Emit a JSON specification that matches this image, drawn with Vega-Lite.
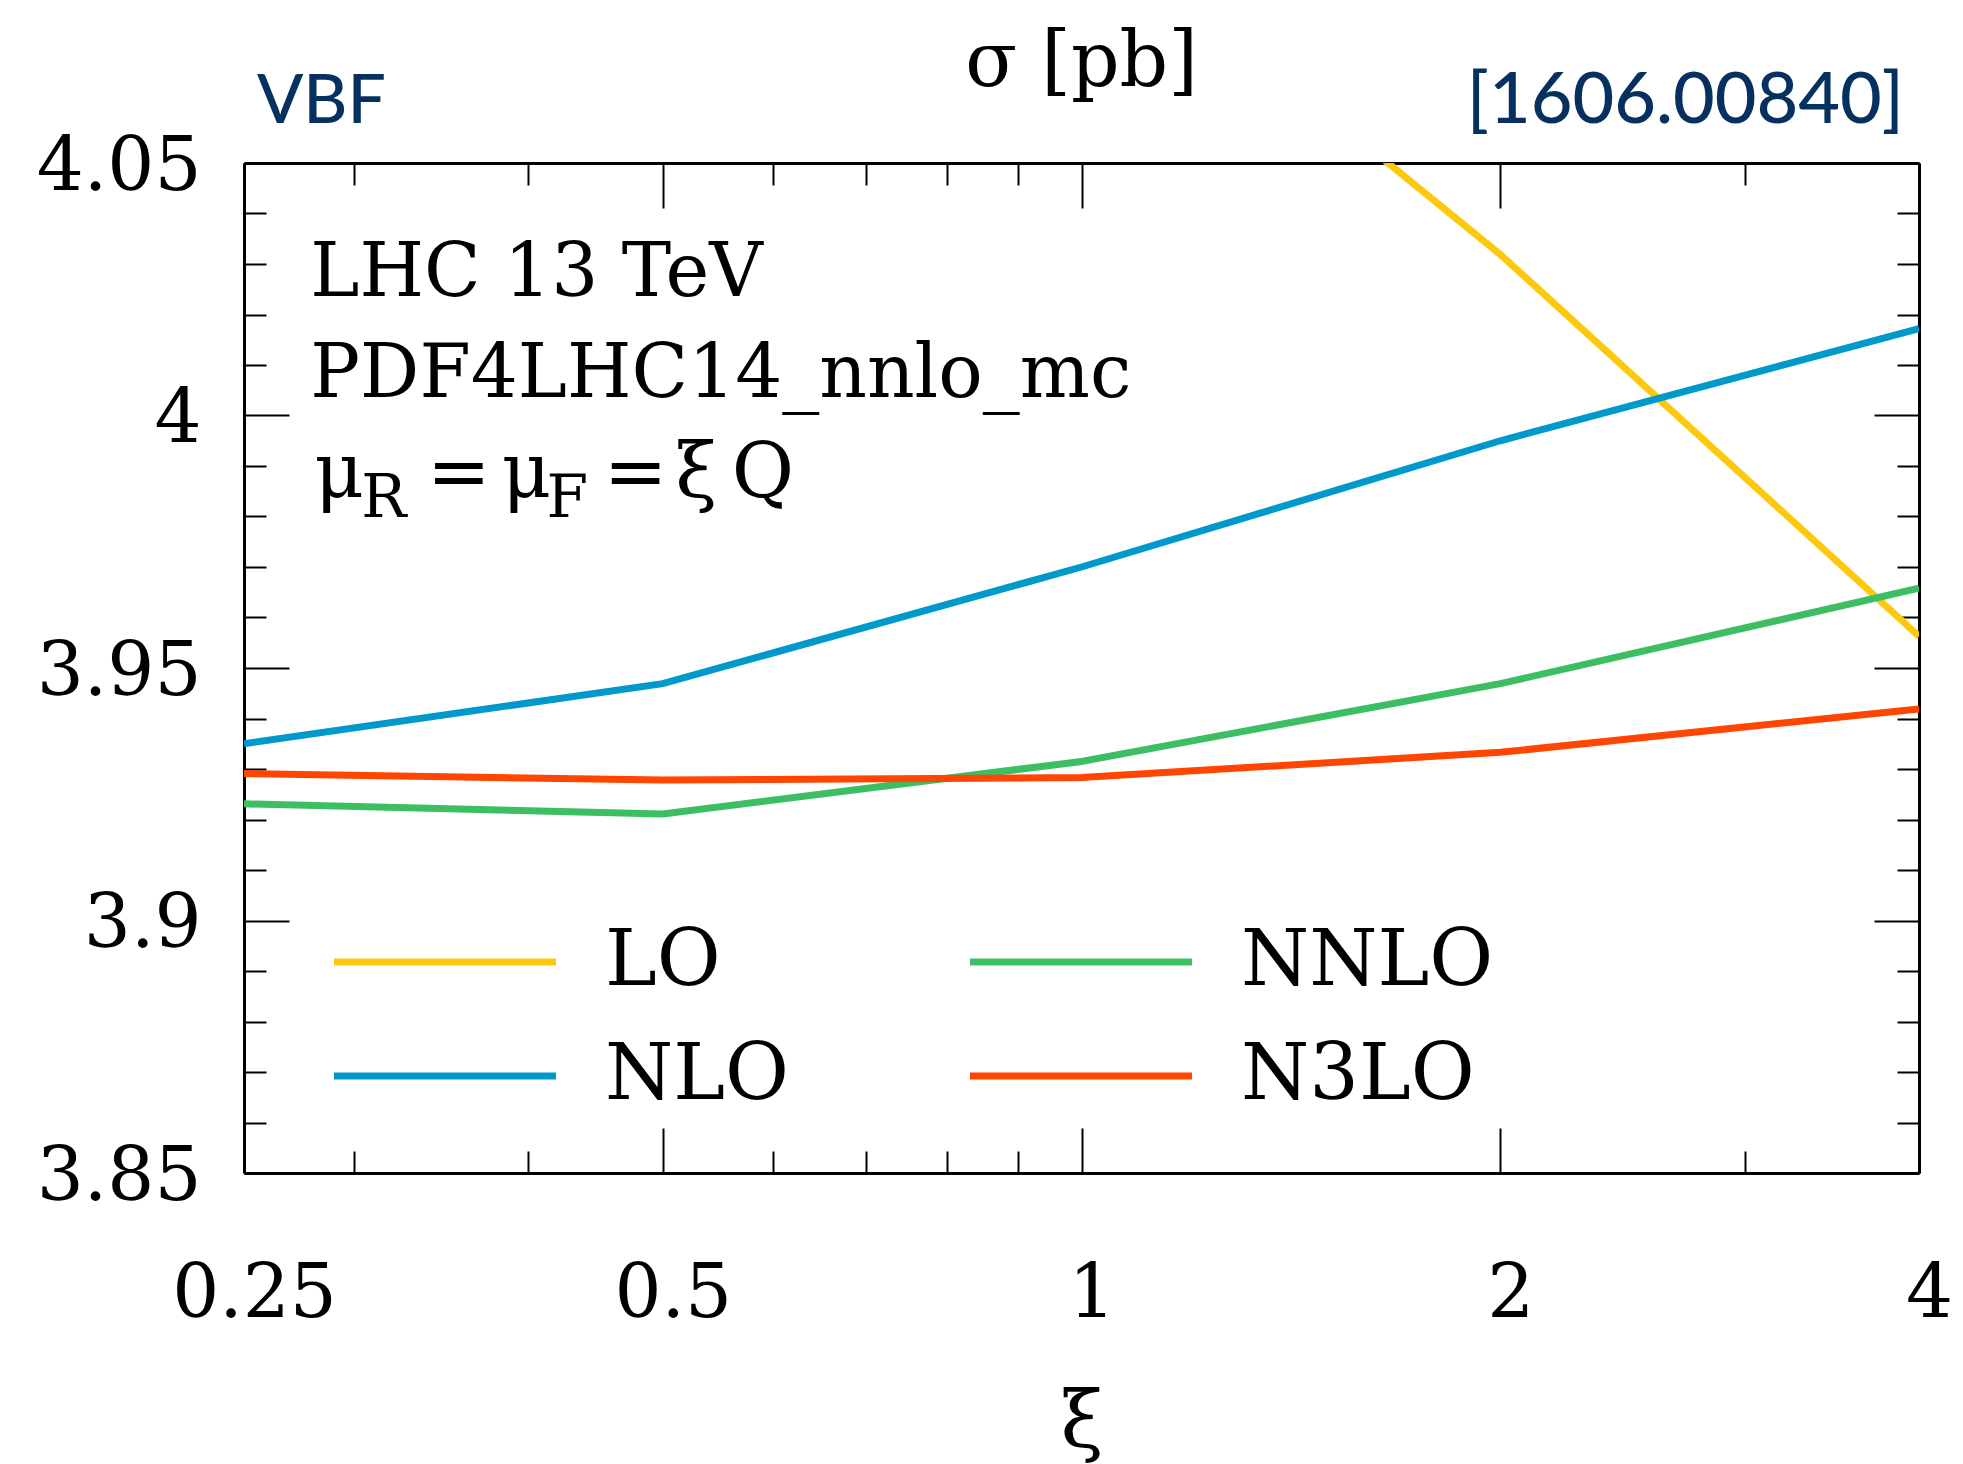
{
  "$schema": "https://vega.github.io/schema/vega-lite/v6.json",
  "width": 1675,
  "height": 1010,
  "autosize": {"type": "none"},
  "padding": {"left": 244, "top": 163, "right": 44, "bottom": 291},
  "background": "white",
  "config": {"view": {"stroke": null}, "font": "DejaVu Serif"},
  "datasets": {
    "xs": [
      {"xi": 0.25, "sigma": 4.21, "order": "LO"},
      {"xi": 0.5, "sigma": 4.16, "order": "LO"},
      {"xi": 1, "sigma": 4.0994, "order": "LO"},
      {"xi": 2, "sigma": 4.0319, "order": "LO"},
      {"xi": 4, "sigma": 3.9563, "order": "LO"},
      {"xi": 0.25, "sigma": 3.935, "order": "NLO"},
      {"xi": 0.5, "sigma": 3.9469, "order": "NLO"},
      {"xi": 1, "sigma": 3.97, "order": "NLO"},
      {"xi": 2, "sigma": 3.995, "order": "NLO"},
      {"xi": 4, "sigma": 4.0172, "order": "NLO"},
      {"xi": 0.25, "sigma": 3.9231, "order": "NNLO"},
      {"xi": 0.5, "sigma": 3.9211, "order": "NNLO"},
      {"xi": 1, "sigma": 3.9315, "order": "NNLO"},
      {"xi": 2, "sigma": 3.9469, "order": "NNLO"},
      {"xi": 4, "sigma": 3.9658, "order": "NNLO"},
      {"xi": 0.25, "sigma": 3.9291, "order": "N3LO"},
      {"xi": 0.5, "sigma": 3.9278, "order": "N3LO"},
      {"xi": 1, "sigma": 3.9283, "order": "N3LO"},
      {"xi": 2, "sigma": 3.9333, "order": "N3LO"},
      {"xi": 4, "sigma": 3.9419, "order": "N3LO"}
    ]
  },
  "data": {"name": "xs"},
  "layer": [
    {
      "mark": {"type": "line", "strokeWidth": 7, "clip": true},
      "encoding": {
        "x": {
          "field": "xi", "type": "quantitative",
          "scale": {"type": "log", "domain": [0.25, 4], "nice": false},
          "axis": {
            "orient": "bottom",
            "values": [0.25, 0.3, 0.4, 0.5, 0.6, 0.7, 0.8, 0.9, 1, 2, 3, 4],
            "labelExpr": "indexof([0.25,0.5,1,2,4], datum.value) >= 0 ? '' + datum.value : ''",
            "tickSize": {"condition": {"test": "indexof([0.25,0.5,1,2,4], datum.value) >= 0", "value": -45}, "value": -22},
            "tickWidth": 2, "tickColor": "black",
            "domainColor": "black", "domainWidth": 3,
            "labelFont": "DejaVu Serif", "labelFontSize": 74, "labelColor": "black",
            "labelPadding": 130, "labelFlush": false, "labelOverlap": false, "labelOffset": 10, "labelBound": false,
            "grid": false,
            "title": "ξ", "titleFont": "DejaVu Serif", "titleFontSize": 78, "titleFontWeight": "normal", "titleColor": "black", "titlePadding": 30
          }
        },
        "y": {
          "field": "sigma", "type": "quantitative",
          "scale": {"domain": [3.85, 4.05], "nice": false, "zero": false},
          "axis": {
            "orient": "left",
            "values": [3.85, 3.86, 3.87, 3.88, 3.89, 3.9, 3.91, 3.92, 3.93, 3.94, 3.95, 3.96, 3.97, 3.98, 3.99, 4, 4.01, 4.02, 4.03, 4.04, 4.05],
            "labelExpr": "indexof([3.85,3.9,3.95,4,4.05], datum.value) >= 0 ? '' + datum.value : ''",
            "tickSize": {"condition": {"test": "indexof([3.85,3.9,3.95,4,4.05], datum.value) >= 0", "value": -45}, "value": -22},
            "tickWidth": 2, "tickColor": "black",
            "domainColor": "black", "domainWidth": 3,
            "labelFont": "DejaVu Serif", "labelFontSize": 74, "labelColor": "black",
            "labelPadding": 88, "labelFlush": false, "labelOverlap": false, "labelBound": false, "labelOffset": 4,
            "grid": false, "title": null
          }
        },
        "color": {
          "field": "order", "type": "nominal",
          "scale": {"domain": ["LO", "NLO", "NNLO", "N3LO"], "range": ["#fdc90f", "#0099cc", "#3cbf63", "#ff4500"]},
          "legend": {
            "orient": "none", "legendX": 162, "legendY": 760, "columns": 2, "columnPadding": 167, "rowPadding": 36,
            "symbolType": "M-4,0H4", "symbolSize": 3080, "symbolStrokeWidth": 7,
            "labelFont": "DejaVu Serif", "labelFontSize": 78, "labelColor": "black", "labelOffset": 121, "labelLimit": 0,
            "title": null, "padding": 0
          }
        }
      }
    },
    {
      "mark": {"type": "point", "opacity": 0, "clip": true},
      "encoding": {
        "x": {
          "field": "xi", "type": "quantitative",
          "scale": {"type": "log", "domain": [0.25, 4], "nice": false},
          "axis": {
            "orient": "top",
            "values": [0.25, 0.3, 0.4, 0.5, 0.6, 0.7, 0.8, 0.9, 1, 2, 3, 4],
            "labels": false,
            "tickSize": {"condition": {"test": "indexof([0.25,0.5,1,2,4], datum.value) >= 0", "value": -45}, "value": -22},
            "tickWidth": 2, "tickColor": "black",
            "domainColor": "black", "domainWidth": 3, "grid": false, "title": null
          }
        },
        "y": {
          "field": "sigma", "type": "quantitative",
          "scale": {"domain": [3.85, 4.05], "nice": false, "zero": false},
          "axis": {
            "orient": "right",
            "values": [3.85, 3.86, 3.87, 3.88, 3.89, 3.9, 3.91, 3.92, 3.93, 3.94, 3.95, 3.96, 3.97, 3.98, 3.99, 4, 4.01, 4.02, 4.03, 4.04, 4.05],
            "labels": false,
            "tickSize": {"condition": {"test": "indexof([3.85,3.9,3.95,4,4.05], datum.value) >= 0", "value": -45}, "value": -22},
            "tickWidth": 2, "tickColor": "black",
            "domainColor": "black", "domainWidth": 3, "grid": false, "title": null
          }
        }
      }
    },
    {
      "data": {"values": [{}]},
      "mark": {"type": "text", "text": "σ [pb]", "font": "DejaVu Serif", "fontSize": 76, "align": "center", "baseline": "alphabetic", "color": "black"},
      "encoding": {
        "x": {"datum": 1, "type": "quantitative", "scale": {"type": "log", "domain": [0.25, 4], "nice": false}, "axis": null},
        "y": {"datum": 4.0652, "type": "quantitative", "scale": {"domain": [3.85, 4.05], "nice": false, "zero": false}, "axis": null}
      }
    },
    {
      "data": {"values": [{}]},
      "mark": {"type": "text", "text": "VBF", "font": "Lato", "fontSize": 68, "fontWeight": 500, "align": "left", "baseline": "alphabetic", "color": "#06305f"},
      "encoding": {
        "x": {"datum": 0.2554, "type": "quantitative", "scale": {"type": "log", "domain": [0.25, 4], "nice": false}, "axis": null},
        "y": {"datum": 4.058, "type": "quantitative", "scale": {"domain": [3.85, 4.05], "nice": false, "zero": false}, "axis": null}
      }
    },
    {
      "data": {"values": [{}]},
      "mark": {"type": "text", "text": "[1606.00840]", "font": "Lato", "fontSize": 72, "fontWeight": 500, "align": "right", "baseline": "alphabetic", "color": "#06305f"},
      "encoding": {
        "x": {"datum": 3.902, "type": "quantitative", "scale": {"type": "log", "domain": [0.25, 4], "nice": false}, "axis": null},
        "y": {"datum": 4.058, "type": "quantitative", "scale": {"domain": [3.85, 4.05], "nice": false, "zero": false}, "axis": null}
      }
    },
    {
      "data": {"values": [{}]},
      "mark": {"type": "text", "text": "LHC 13 TeV", "font": "DejaVu Serif", "fontSize": 74, "align": "left", "baseline": "alphabetic", "color": "black"},
      "encoding": {
        "x": {"datum": 0.279, "type": "quantitative", "scale": {"type": "log", "domain": [0.25, 4], "nice": false}, "axis": null},
        "y": {"datum": 4.0237, "type": "quantitative", "scale": {"domain": [3.85, 4.05], "nice": false, "zero": false}, "axis": null}
      }
    },
    {
      "data": {"values": [{}]},
      "mark": {"type": "text", "text": "PDF4LHC14_nnlo_mc", "font": "DejaVu Serif", "fontSize": 74, "align": "left", "baseline": "alphabetic", "color": "black"},
      "encoding": {
        "x": {"datum": 0.279, "type": "quantitative", "scale": {"type": "log", "domain": [0.25, 4], "nice": false}, "axis": null},
        "y": {"datum": 4.0037, "type": "quantitative", "scale": {"domain": [3.85, 4.05], "nice": false, "zero": false}, "axis": null}
      }
    },
    {
      "data": {"values": [{}]},
      "mark": {"type": "text", "text": "μ", "font": "DejaVu Serif", "fontSize": 76, "align": "left", "baseline": "alphabetic", "color": "black"},
      "encoding": {
        "x": {"datum": 0.281, "type": "quantitative", "scale": {"type": "log", "domain": [0.25, 4], "nice": false}, "axis": null},
        "y": {"datum": 3.9839, "type": "quantitative", "scale": {"domain": [3.85, 4.05], "nice": false, "zero": false}, "axis": null}
      }
    },
    {
      "data": {"values": [{}]},
      "mark": {"type": "text", "text": "R", "font": "DejaVu Serif", "fontSize": 60, "align": "left", "baseline": "alphabetic", "color": "black"},
      "encoding": {
        "x": {"datum": 0.3035, "type": "quantitative", "scale": {"type": "log", "domain": [0.25, 4], "nice": false}, "axis": null},
        "y": {"datum": 3.9799, "type": "quantitative", "scale": {"domain": [3.85, 4.05], "nice": false, "zero": false}, "axis": null}
      }
    },
    {
      "data": {"values": [{}]},
      "mark": {"type": "text", "text": "=", "font": "DejaVu Serif", "fontSize": 76, "align": "left", "baseline": "alphabetic", "color": "black"},
      "encoding": {
        "x": {"datum": 0.3385, "type": "quantitative", "scale": {"type": "log", "domain": [0.25, 4], "nice": false}, "axis": null},
        "y": {"datum": 3.9839, "type": "quantitative", "scale": {"domain": [3.85, 4.05], "nice": false, "zero": false}, "axis": null}
      }
    },
    {
      "data": {"values": [{}]},
      "mark": {"type": "text", "text": "μ", "font": "DejaVu Serif", "fontSize": 76, "align": "left", "baseline": "alphabetic", "color": "black"},
      "encoding": {
        "x": {"datum": 0.383, "type": "quantitative", "scale": {"type": "log", "domain": [0.25, 4], "nice": false}, "axis": null},
        "y": {"datum": 3.9839, "type": "quantitative", "scale": {"domain": [3.85, 4.05], "nice": false, "zero": false}, "axis": null}
      }
    },
    {
      "data": {"values": [{}]},
      "mark": {"type": "text", "text": "F", "font": "DejaVu Serif", "fontSize": 60, "align": "left", "baseline": "alphabetic", "color": "black"},
      "encoding": {
        "x": {"datum": 0.4125, "type": "quantitative", "scale": {"type": "log", "domain": [0.25, 4], "nice": false}, "axis": null},
        "y": {"datum": 3.9799, "type": "quantitative", "scale": {"domain": [3.85, 4.05], "nice": false, "zero": false}, "axis": null}
      }
    },
    {
      "data": {"values": [{}]},
      "mark": {"type": "text", "text": "=", "font": "DejaVu Serif", "fontSize": 76, "align": "left", "baseline": "alphabetic", "color": "black"},
      "encoding": {
        "x": {"datum": 0.4535, "type": "quantitative", "scale": {"type": "log", "domain": [0.25, 4], "nice": false}, "axis": null},
        "y": {"datum": 3.9839, "type": "quantitative", "scale": {"domain": [3.85, 4.05], "nice": false, "zero": false}, "axis": null}
      }
    },
    {
      "data": {"values": [{}]},
      "mark": {"type": "text", "text": "ξ", "font": "DejaVu Serif", "fontSize": 76, "align": "left", "baseline": "alphabetic", "color": "black"},
      "encoding": {
        "x": {"datum": 0.5105, "type": "quantitative", "scale": {"type": "log", "domain": [0.25, 4], "nice": false}, "axis": null},
        "y": {"datum": 3.9839, "type": "quantitative", "scale": {"domain": [3.85, 4.05], "nice": false, "zero": false}, "axis": null}
      }
    },
    {
      "data": {"values": [{}]},
      "mark": {"type": "text", "text": "Q", "font": "DejaVu Serif", "fontSize": 76, "align": "left", "baseline": "alphabetic", "color": "black"},
      "encoding": {
        "x": {"datum": 0.5605, "type": "quantitative", "scale": {"type": "log", "domain": [0.25, 4], "nice": false}, "axis": null},
        "y": {"datum": 3.9839, "type": "quantitative", "scale": {"domain": [3.85, 4.05], "nice": false, "zero": false}, "axis": null}
      }
    }
  ],
  "resolve": {"axis": {"x": "independent", "y": "independent"}}
}
